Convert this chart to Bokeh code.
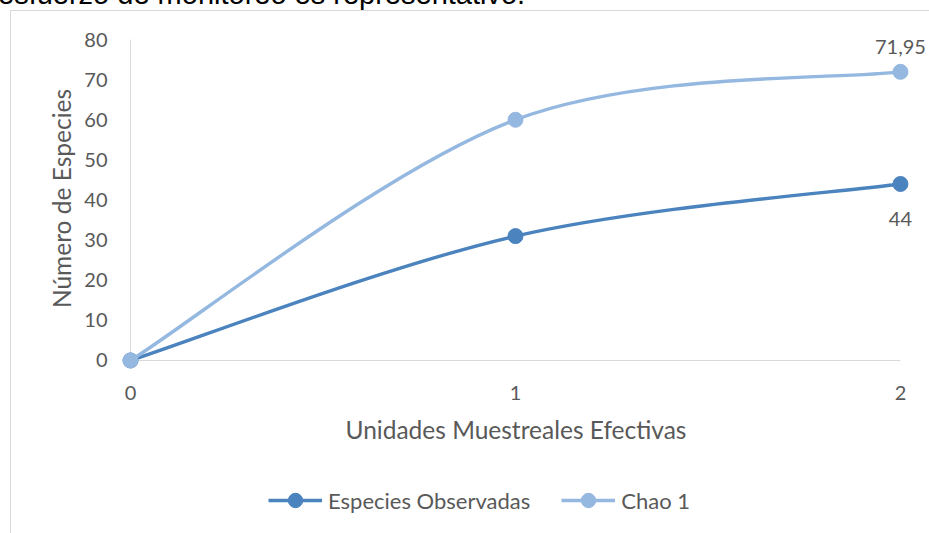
from bokeh.plotting import figure
from bokeh.models import Range1d, FixedTicker, Legend, LegendItem, ColumnDataSource, Div
from bokeh.layouts import column
from bokeh.core.properties import value
from bokeh.embed import file_html
from bokeh.resources import INLINE

# ---- data ----
x_vals = [0, 1, 2]
obs = [0, 31, 44]
chao = [0, 60, 71.95]
y_ticks = [0, 10, 20, 30, 40, 50, 60, 70, 80]
x_ticks = [0, 1, 2]
series_names = ["Especies Observadas", "Chao 1"]
x_title = "Unidades Muestreales Efectivas"
y_title = "Número de Especies"
top_text = "esfuerzo de monitoreo es representativo."

C_OBS = "#4A83BE"
C_CHAO = "#95B8E0"
TXT = "#595959"
FONT = "Lato"
BORDER = "1px solid #d9d9d9"

def smooth(xs, ys):
    # Catmull-Rom style bezier segments (Excel-like smoothed line)
    n = len(xs)
    P = list(zip(xs, ys))
    d = dict(x0=[], y0=[], x1=[], y1=[], cx0=[], cy0=[], cx1=[], cy1=[])
    for i in range(n - 1):
        p0 = P[i - 1] if i > 0 else P[i]
        p1 = P[i]
        p2 = P[i + 1]
        p3 = P[i + 2] if i + 2 < n else P[i + 1]
        d["x0"].append(p1[0]); d["y0"].append(p1[1])
        d["x1"].append(p2[0]); d["y1"].append(p2[1])
        d["cx0"].append(p1[0] + (p2[0] - p0[0]) / 6)
        d["cy0"].append(p1[1] + (p2[1] - p0[1]) / 6)
        d["cx1"].append(p2[0] - (p3[0] - p1[0]) / 6)
        d["cy1"].append(p2[1] - (p3[1] - p1[1]) / 6)
    return ColumnDataSource(d)

header = Div(
    text=('<div style="position:relative; left:-2px; top:-20px; '
          "font-family:'Liberation Sans', Arial, sans-serif; font-size:29px; "
          'line-height:29px; white-space:nowrap; color:#000;">' + top_text + '</div>'),
    width=929, height=10, styles={"overflow": "hidden"}, margin=(0, 0, 0, 0))

# ---- main chart ----
px_per_x = 384.5
px_per_y = 4.0
p = figure(width=919, height=460,
           x_range=Range1d(-28 / px_per_x, 2 + 29 / px_per_x),
           y_range=Range1d(-11 / px_per_y, 80 + 14 / px_per_y),
           output_backend="svg", toolbar_location=None,
           min_border_left=91, min_border_right=1,
           min_border_top=14, min_border_bottom=100,
           margin=(0, 0, 0, 10))
p.styles = {"border-top": BORDER, "border-left": BORDER}
p.xgrid.visible = False
p.ygrid.visible = False
p.outline_line_color = None

for ax in (p.xaxis[0], p.yaxis[0]):
    ax.axis_line_color = None
    ax.major_tick_line_color = None
    ax.minor_tick_line_color = None
    ax.major_tick_out = 0
    ax.major_tick_in = 0
    ax.major_label_text_font = FONT
    ax.major_label_text_font_size = "20px"
    ax.major_label_text_color = TXT
    ax.axis_label_text_font = FONT
    ax.axis_label_text_font_size = "24.5px"
    ax.axis_label_text_font_style = "normal"
    ax.axis_label_text_color = TXT

p.xaxis.ticker = FixedTicker(ticks=x_ticks)
p.yaxis.ticker = FixedTicker(ticks=y_ticks)
p.xaxis.axis_label = x_title
p.yaxis.axis_label = y_title
p.xaxis.major_label_standoff = 14
p.xaxis.axis_label_standoff = 12
p.yaxis.major_label_standoff = -5
p.yaxis.axis_label_standoff = 5

# axis lines
p.segment(x0=[x_ticks[0], x_ticks[0]], y0=[y_ticks[0], y_ticks[0]],
          x1=[x_ticks[-1], x_ticks[0]], y1=[y_ticks[0], y_ticks[-1]],
          line_color="#d9d9d9", line_width=1)

for ys, col in [(obs, C_OBS), (chao, C_CHAO)]:
    p.bezier(x0="x0", y0="y0", x1="x1", y1="y1", cx0="cx0", cy0="cy0",
             cx1="cx1", cy1="cy1", source=smooth(x_vals, ys),
             line_color=col, line_width=3.4)
    p.scatter(x_vals, ys, size=15, color=col)

# data labels
p.text(x=[x_vals[-1]], y=[chao[-1]], text=[f"{chao[-1]:g}".replace(".", ",")],
       y_offset=-25, text_align="center", text_baseline="middle",
       text_font=value(FONT), text_font_size="20px", text_color=TXT)
p.text(x=[x_vals[-1]], y=[obs[-1]], text=[f"{obs[-1]:g}".replace(".", ",")],
       y_offset=35, text_align="center", text_baseline="middle",
       text_font=value(FONT), text_font_size="20px", text_color=TXT)

# ---- legend strip (its series are drawn off-range; only the legend shows) ----
lg = figure(width=919, height=63, x_range=Range1d(-20, -19), y_range=Range1d(-20, -19),
            x_axis_type=None, y_axis_type=None,
            output_backend="svg", toolbar_location=None,
            min_border_left=0, min_border_right=0, min_border_top=0, min_border_bottom=0,
            margin=(0, 0, 0, 10))
lg.styles = {"border-left": BORDER}
lg.xgrid.visible = False
lg.ygrid.visible = False
lg.outline_line_color = None

items = []
for name, ys, col in [(series_names[0], obs, C_OBS), (series_names[1], chao, C_CHAO)]:
    rl = lg.line(x=x_vals, y=ys, line_color=col, line_width=3.4)
    rs = lg.scatter(x=x_vals, y=ys, size=15, color=col)
    items.append(LegendItem(label=name, renderers=[rl, rs]))

legend = Legend(items=items, location=(166, 15), orientation="horizontal",
                border_line_color=None, background_fill_alpha=0,
                label_text_font=FONT, label_text_font_size="22px",
                label_text_color=TXT, glyph_width=54, glyph_height=36,
                spacing=31, padding=0, margin=0, label_standoff=6)
lg.add_layout(legend)

layout = column(header, p, lg, spacing=0)
open("out.html", "w").write(file_html(layout, INLINE))
